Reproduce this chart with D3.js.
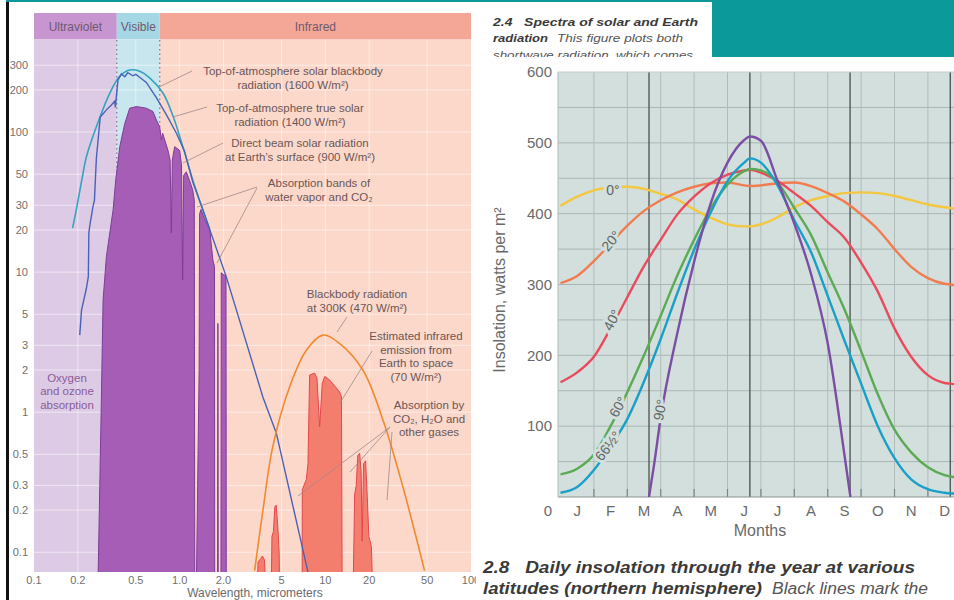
<!DOCTYPE html>
<html>
<head>
<meta charset="utf-8">
<script src="https://d3js.org/d3.v7.min.js"></script>
<style>
body { margin: 0; background: #fff; }
svg { display: block; font-family: 'Liberation Sans', Arial, sans-serif; }
</style>
</head>
<body>
<svg id="tavola" width="954" height="600"></svg>
<script>
//bande dello spettro (micrometri)
var bandeNomi = ['Ultraviolet', 'Visible', 'Infrared'];
var bandeLimiti = [0.1, 0.37, 0.73, 100];

//tick del grafico degli spettri
var tickLunghezza = [0.1, 0.2, 0.5, 1, 2, 5, 10, 20, 50, 100];
var tickLunghezzaTesto = ['0.1', '0.2', '0.5', '1.0', '2.0', '5', '10', '20', '50', '100'];
var tickEnergia = [300, 200, 100, 50, 30, 20, 10, 5, 3, 2, 1, 0.5, 0.3, 0.2, 0.1];

//corpo nero solare in cima all'atmosfera [micrometri, valore]
var solareCorpoNero = [[0.184, 20.6], [0.195, 27.7], [0.217, 50.7], [0.229, 66.6], [0.268, 109], [0.331, 189],
    [0.388, 250], [0.454, 277], [0.531, 272], [0.622, 244], [0.768, 190], [0.9, 130], [1.05, 79],
    [1.23, 45.4], [1.445, 27.7], [1.606, 20.3]];

//radiazione solare vera in cima all'atmosfera
var solareVero = [[0.206, 3.55], [0.212, 5.35], [0.229, 7.67], [0.236, 9.3], [0.238, 19], [0.241, 21.1],
    [0.254, 29.3], [0.26, 32.7], [0.268, 65], [0.285, 128], [0.3, 136], [0.314, 144], [0.34, 156],
    [0.358, 166], [0.362, 150], [0.377, 235], [0.398, 260], [0.42, 248], [0.44, 265], [0.478, 252],
    [0.5, 258], [0.531, 246], [0.59, 226], [0.692, 176], [0.81, 133], [0.95, 98], [1.08, 73],
    [1.23, 44], [1.445, 27.7], [2.09, 9.25], [3.73, 1.28], [4.61, 0.708], [7.6, 0.0722]];

//radiazione diretta alla superficie terrestre
var radiazioneDiretta = [[0.274, 0.05], [0.29, 1.22], [0.298, 6.3], [0.314, 12.9], [0.349, 27.7], [0.364, 45.4],
    [0.388, 78.6], [0.42, 115], [0.454, 148], [0.505, 152], [0.59, 148], [0.656, 140], [0.692, 122],
    [0.729, 109], [0.749, 87.7], [0.764, 98], [0.831, 74], [0.86, 63], [0.877, 19], [0.89, 63],
    [0.924, 78.6], [1.0, 74], [1.03, 58], [1.048, 8.8], [1.065, 49], [1.11, 52], [1.17, 45], [1.23, 38.5],
    [1.26, 32.7], [1.27, 0.05], [1.30, 0.05], [1.36, 2], [1.37, 26], [1.40, 28], [1.48, 24], [1.61, 20],
    [1.69, 12.2], [1.735, 11], [1.74, 0.05], [1.82, 0.05], [1.83, 4.3], [1.84, 0.05], [1.92, 0.05],
    [1.93, 9.9], [2.0, 9.6], [2.08, 9.4], [2.09, 0.05]];

//emissione infrarossa stimata dalla Terra verso lo spazio
var emissioneTerra = [[3.40, 0.05], [3.45, 0.085], [3.6, 0.09], [3.7, 0.094], [3.82, 0.088], [3.93, 0.05],
    [4.25, 0.05], [4.3, 0.13], [4.4, 0.14], [4.5, 0.21], [4.6, 0.217], [4.72, 0.15], [4.82, 0.1], [4.86, 0.05],
    [6.93, 0.05], [6.95, 0.28], [7.4, 0.33], [7.6, 0.43], [7.8, 1.84], [8.44, 1.9], [8.76, 1.75], [9.14, 0.785],
    [9.52, 1.6], [9.9, 1.8], [10.7, 1.7], [11.9, 1.49], [12.5, 1.4], [12.9, 1.29], [13.05, 0.05],
    [15.5, 0.05], [15.9, 0.26], [16.3, 0.3], [16.7, 0.49], [17.2, 0.51], [17.6, 0.38], [17.9, 0.12],
    [18.3, 0.43], [18.9, 0.45], [19.4, 0.25], [19.9, 0.13], [20.7, 0.11], [21.2, 0.05]];

//corpo nero a 300K
var terraCorpoNero = [[3.27, 0.074], [3.73, 0.2], [4.36, 0.57], [5.69, 1.52], [7.41, 2.77], [9.63, 3.55],
    [12.5, 3.1], [18.1, 2.0], [24.9, 0.877], [34.1, 0.292], [48, 0.074]];

//dati del grafico dell'insolazione (mesi dall'inizio dell'anno, watt per m2)
var mesiNomi = ['J', 'F', 'M', 'A', 'M', 'J', 'J', 'A', 'S', 'O', 'N', 'D'];
var tickInsolazione = [0, 100, 200, 300, 400, 500, 600];
var mesiSolstizi = [2.65, 5.67, 8.67, 11.67];
var tempoMesi = [0, 0.5, 1, 1.5, 2, 2.5, 3, 3.5, 4, 4.5, 5, 5.5, 5.67, 6, 6.5, 7, 7.5, 8, 8.5, 9, 9.5, 10, 10.5, 11, 11.5, 11.67, 11.85];
var insolazione0 = [411, 424, 433, 437, 438, 435, 428, 420, 406, 394, 385, 382, 382, 385, 395, 409, 419, 425, 429, 430, 429, 425, 419, 413, 409, 408, 406];
var insolazione20 = [302, 312, 333, 358, 383, 404, 419, 430, 438, 443, 444, 440, 439, 440, 443, 444, 439, 429, 417, 399, 378, 350, 325, 309, 301, 300, 299];
var insolazione40 = [162, 176, 198, 238, 282, 326, 363, 399, 424, 443, 455, 461, 462, 458, 446, 429, 411, 388, 366, 331, 290, 238, 198, 172, 161, 160, 159];
var insolazione60 = [32, 40, 60, 100, 148, 200, 256, 313, 363, 408, 441, 460, 463, 461, 444, 408, 370, 317, 265, 206, 145, 95, 63, 42, 31, 29, 28];
var insolazione66 = [6, 14, 38, 72, 110, 163, 223, 288, 349, 402, 446, 472, 478, 472, 440, 391, 346, 284, 221, 160, 100, 55, 25, 11, 6, 5, 5];
var tempo90 = [2.65, 2.8, 3, 3.5, 4, 4.5, 5, 5.5, 5.67, 6, 6.5, 7, 7.5, 8, 8.5, 8.68];
var insolazione90 = [0, 45, 112, 232, 332, 415, 472, 504, 509, 503, 446, 386, 315, 217, 60, 0];
var latitudiniNomi = ['0°', '20°', '40°', '60°', '66½°', '90°'];

//colori
var bandeTestata = ['#c796d0', '#a6d7e4', '#f5a797'];
var bandeSfondo = ['#ddcbe6', '#c7e6ee', '#fcd8cb'];
var latitudiniColori = ['#f3c73e', '#f07c50', '#ea4b5c', '#5bab55', '#19a0c8', '#7b4ea4'];
var verdeAcqua = '#0b9a99';
var sfondoInsolazione = '#d3dfdd';

//oggetto globale svg dove disegnare
var svg = d3.select('#tavola');

//scale del grafico degli spettri
var xSpettro = d3.scaleLog().domain([0.1, 100]).range([34, 471]);
var ySpettro = d3.scaleLog().domain([0.0723, 454]).range([572, 40]);

//scale del grafico dell'insolazione
var xMesi = d3.scaleLinear().domain([0, 12]).range([560.5, 961.3]);
var yInsolazione = d3.scaleLinear().domain([0, 600]).range([497, 72]);

//funzione che disegna la cornice verde acqua e nera
function disegnaCornice() {
    svg.append('rect').attr('width', 954).attr('height', 600).style('fill', '#fff');
    svg.append('rect').attr('x', 6).attr('y', 0).attr('width', 948).attr('height', 2).style('fill', verdeAcqua);
    svg.append('rect').attr('x', 6).attr('y', 2).attr('width', 3).attr('height', 598).style('fill', '#111');
}

//funzione che disegna il grafico degli spettri
function disegnaSpettro() {
    var g = svg.append('g');
    var alto = ySpettro.range()[1];
    var basso = ySpettro.range()[0];

    //fasce di sfondo e intestazione
    bandeNomi.forEach(function(nome, i) {
        var x0 = xSpettro(bandeLimiti[i]);
        var x1 = xSpettro(bandeLimiti[i + 1]);
        g.append('rect').attr('x', x0).attr('y', 13).attr('width', x1 - x0).attr('height', 26.5)
            .style('fill', bandeTestata[i]);
        g.append('rect').attr('x', x0).attr('y', alto).attr('width', x1 - x0).attr('height', basso - alto)
            .style('fill', bandeSfondo[i]);
        g.append('text').attr('x', (x0 + x1) / 2).attr('y', 30.5)
            .style('text-anchor', 'middle').style('font-size', '12px').style('fill', '#6e5a70')
            .text(nome);
    });

    //griglia
    g.selectAll('.grigliaX').data(tickLunghezza.slice(1, -1)).enter().append('line')
        .attr('x1', function(d) { return xSpettro(d); }).attr('x2', function(d) { return xSpettro(d); })
        .attr('y1', alto).attr('y2', basso)
        .style('stroke', '#fff').style('stroke-opacity', 0.5);
    g.selectAll('.grigliaY').data(tickEnergia).enter().append('line')
        .attr('x1', xSpettro.range()[0]).attr('x2', xSpettro.range()[1])
        .attr('y1', function(d) { return ySpettro(d); }).attr('y2', function(d) { return ySpettro(d); })
        .style('stroke', '#fff').style('stroke-opacity', 0.5);

    //linee tratteggiate del visibile
    g.selectAll('.limite').data(bandeLimiti.slice(1, 3)).enter().append('line')
        .attr('x1', function(d) { return xSpettro(d); }).attr('x2', function(d) { return xSpettro(d); })
        .attr('y1', alto).attr('y2', basso)
        .style('stroke', '#8c6c98').style('stroke-dasharray', '1.5,3').style('stroke-width', 1.2);

    //area di disegno
    svg.append('clipPath').attr('id', 'clipSpettro').append('rect')
        .attr('x', xSpettro.range()[0]).attr('y', alto)
        .attr('width', xSpettro.range()[1] - xSpettro.range()[0]).attr('height', basso - alto);
    var p = g.append('g').attr('clip-path', 'url(#clipSpettro)');

    var area = d3.area()
        .x(function(d) { return xSpettro(d[0]); })
        .y0(basso + 5)
        .y1(function(d) { return ySpettro(d[1]); });
    var linea = d3.line()
        .x(function(d) { return xSpettro(d[0]); })
        .y(function(d) { return ySpettro(d[1]); });
    var lineaMorbida = d3.line()
        .x(function(d) { return xSpettro(d[0]); })
        .y(function(d) { return ySpettro(d[1]); })
        .curve(d3.curveCatmullRom);

    p.append('path').attr('d', area(radiazioneDiretta)).style('fill', '#a55db5');
    p.append('path').attr('d', linea(radiazioneDiretta))
        .style('fill', 'none').style('stroke', '#7d3c98').style('stroke-width', 1);
    p.append('path').attr('d', area(emissioneTerra)).style('fill', '#f47e6e');
    p.append('path').attr('d', linea(emissioneTerra))
        .style('fill', 'none').style('stroke', '#e4464c').style('stroke-width', 1);

    p.append('path').attr('d', lineaMorbida(solareCorpoNero))
        .style('fill', 'none').style('stroke', '#34a3bf').style('stroke-width', 1.6);
    p.append('path').attr('d', linea(solareVero))
        .style('fill', 'none').style('stroke', '#4862b8').style('stroke-width', 1.4);
    p.append('path').attr('d', lineaMorbida(terraCorpoNero))
        .style('fill', 'none').style('stroke', '#f08a2e').style('stroke-width', 1.6);

    //etichette degli assi
    g.selectAll('.tickY').data(tickEnergia).enter().append('text')
        .attr('x', 28).attr('y', function(d) { return ySpettro(d); }).attr('dy', '.35em')
        .style('text-anchor', 'end').style('font-size', '11px').style('fill', '#707070')
        .text(function(d) { return d; });
    g.selectAll('.tickX').data(tickLunghezza).enter().append('text')
        .attr('x', function(d) { return xSpettro(d); }).attr('y', 584)
        .style('text-anchor', 'middle').style('font-size', '11px').style('fill', '#707070')
        .text(function(d, i) { return tickLunghezzaTesto[i]; });
    g.append('text').attr('x', 255).attr('y', 597)
        .style('text-anchor', 'middle').style('font-size', '12px').style('fill', '#6a6a6a')
        .text('Wavelength, micrometers');

    disegnaNote(g);
}

//funzione che scrive le note con le linee di richiamo
function disegnaNote(g) {
    var note = [
        { x: 293, y: 75, righe: ['Top-of-atmosphere solar blackbody', 'radiation (1600 W/m²)'] },
        { x: 290, y: 112, righe: ['Top-of-atmosphere true solar', 'radiation (1400 W/m²)'] },
        { x: 300, y: 147, righe: ['Direct beam solar radiation', 'at Earth\u2019s surface (900 W/m²)'] },
        { x: 319, y: 187, righe: ['Absorption bands of', 'water vapor and CO\u2082'] },
        { x: 357, y: 298, righe: ['Blackbody radiation', 'at 300K (470 W/m²)'] },
        { x: 416, y: 340, righe: ['Estimated infrared', 'emission from', 'Earth to space', '(70 W/m²)'] },
        { x: 429, y: 409, righe: ['Absorption by', 'CO\u2082, H\u2082O and', 'other gases'] }
    ];
    var richiami = [[192, 71, 159, 87], [207, 107, 173, 117], [223, 143, 183, 163], [257, 187, 197, 207],
        [257, 188, 217, 263], [347, 317, 337, 332], [372, 351, 340, 403], [390, 427, 298, 496],
        [390, 427, 350, 472], [392, 432, 387, 500]];

    g.selectAll('.richiamo').data(richiami).enter().append('line')
        .attr('x1', function(d) { return d[0]; }).attr('y1', function(d) { return d[1]; })
        .attr('x2', function(d) { return d[2]; }).attr('y2', function(d) { return d[3]; })
        .style('stroke', '#a08888').style('stroke-width', 0.8);

    note.forEach(function(n) {
        var t = g.append('text').attr('x', n.x).attr('y', n.y)
            .style('text-anchor', 'middle').style('font-size', '11.5px').style('fill', '#6b5656');
        n.righe.forEach(function(r, i) {
            t.append('tspan').attr('x', n.x).attr('dy', i ? 13.5 : 0).text(r);
        });
    });

    var ossigeno = g.append('text').attr('x', 67).attr('y', 381.5)
        .style('text-anchor', 'middle').style('font-size', '11.5px').style('fill', '#8a5c98');
    ['Oxygen', 'and ozone', 'absorption'].forEach(function(r, i) {
        ossigeno.append('tspan').attr('x', 67).attr('dy', i ? 13.5 : 0).text(r);
    });
}

//funzione che scrive un testo della didascalia
function scriviTesto(g, s, x, y, lunghezza, grassetto) {
    return g.append('text').attr('x', x).attr('y', y)
        .attr('textLength', lunghezza).attr('lengthAdjust', 'spacingAndGlyphs')
        .style('white-space', 'pre')
        .style('font-weight', grassetto ? 'bold' : 'normal')
        .style('fill', grassetto ? '#3a3a3a' : '#555')
        .text(s);
}

//funzione che disegna le didascalie e il riquadro verde acqua
function disegnaDidascalie() {
    svg.append('rect').attr('x', 712).attr('y', 0).attr('width', 242).attr('height', 57).style('fill', verdeAcqua);

    var alto = svg.append('g').style('font-style', 'italic').style('font-size', '11.5px');
    scriviTesto(alto, '2.4   Spectra of solar and Earth', 493, 26, 205, true);
    scriviTesto(alto, 'radiation', 493, 42, 55, true);
    scriviTesto(alto, 'This figure plots both', 557, 42, 126, false);
    scriviTesto(alto, 'shortwave radiation, which comes', 493, 58.5, 200, false);

    //il pannello destro copre il testo sotto
    svg.append('rect').attr('x', 476).attr('y', 57).attr('width', 478).attr('height', 543).style('fill', '#fff');

    var basso = svg.append('g').style('font-style', 'italic').style('font-size', '16px');
    scriviTesto(basso, '2.8   Daily insolation through the year at various', 483, 573, 432, true);
    scriviTesto(basso, 'latitudes (northern hemisphere)', 483, 594, 279, true);
    scriviTesto(basso, 'Black lines mark the', 772, 594, 156, false);
}

//funzione che disegna il grafico dell'insolazione
function disegnaInsolazione() {
    var g = svg.append('g');
    var sinistra = 558;
    var destra = 954;
    var alto = yInsolazione(600);
    var basso = yInsolazione(0);

    g.append('rect').attr('x', sinistra).attr('y', alto).attr('width', destra - sinistra).attr('height', basso - alto)
        .style('fill', sfondoInsolazione);

    //griglia orizzontale ogni 50
    g.selectAll('.grigliaY').data(d3.range(50, 600, 50)).enter().append('line')
        .attr('x1', sinistra).attr('x2', destra)
        .attr('y1', function(d) { return yInsolazione(d); }).attr('y2', function(d) { return yInsolazione(d); })
        .style('stroke', '#aab6b4').style('stroke-width', 1);

    //griglia verticale ai confini dei mesi
    g.selectAll('.grigliaX').data(d3.range(1, 12)).enter().append('line')
        .attr('x1', function(d) { return xMesi(d); }).attr('x2', function(d) { return xMesi(d); })
        .attr('y1', alto).attr('y2', basso)
        .style('stroke', '#b0bcba').style('stroke-width', 1);
    g.selectAll('.tacche').data(d3.range(1, 12)).enter().append('line')
        .attr('x1', function(d) { return xMesi(d); }).attr('x2', function(d) { return xMesi(d); })
        .attr('y1', basso - 8).attr('y2', basso)
        .style('stroke', '#7d8584').style('stroke-width', 1.2);

    //linee nere di equinozi e solstizi
    g.selectAll('.solstizio').data(mesiSolstizi).enter().append('line')
        .attr('x1', function(d) { return xMesi(d); }).attr('x2', function(d) { return xMesi(d); })
        .attr('y1', alto).attr('y2', basso)
        .style('stroke', '#4b4f4f').style('stroke-width', 1.3);

    g.append('line').attr('x1', sinistra).attr('x2', destra).attr('y1', basso).attr('y2', basso)
        .style('stroke', '#8a9291').style('stroke-width', 1.2);
    g.append('line').attr('x1', sinistra).attr('x2', sinistra).attr('y1', alto).attr('y2', basso)
        .style('stroke', '#b0bcba').style('stroke-width', 1);
    g.append('line').attr('x1', sinistra).attr('x2', destra).attr('y1', alto).attr('y2', alto)
        .style('stroke', '#c4cecc').style('stroke-width', 1);

    //curve delle latitudini
    var serie = [
        tempoMesi.map(function(t, i) { return [t, insolazione0[i]]; }),
        tempoMesi.map(function(t, i) { return [t, insolazione20[i]]; }),
        tempoMesi.map(function(t, i) { return [t, insolazione40[i]]; }),
        tempoMesi.map(function(t, i) { return [t, insolazione60[i]]; }),
        tempoMesi.map(function(t, i) { return [t, insolazione66[i]]; }),
        tempo90.map(function(t, i) { return [t, insolazione90[i]]; })
    ];
    var linea = d3.line()
        .x(function(d) { return xMesi(d[0]); })
        .y(function(d) { return yInsolazione(d[1]); })
        .curve(d3.curveMonotoneX);

    svg.append('clipPath').attr('id', 'clipInsolazione').append('rect')
        .attr('x', sinistra).attr('y', alto - 5).attr('width', destra - sinistra).attr('height', basso - alto + 5);
    var p = g.append('g').attr('clip-path', 'url(#clipInsolazione)');
    p.selectAll('.latitudine').data(serie).enter().append('path')
        .attr('d', function(d) { return linea(d); })
        .style('fill', 'none')
        .style('stroke', function(d, i) { return latitudiniColori[i]; })
        .style('stroke-width', 2.4);

    //etichette delle curve con interruzione della linea
    var posEtichette = [[613, 190, 0], [611, 241, -50], [612, 320, -62], [618, 407, -60], [608, 446, -52], [660, 410, -79]];
    g.selectAll('.etichetta').data(latitudiniNomi).enter().append('text')
        .attr('transform', function(d, i) {
            return 'translate(' + posEtichette[i][0] + ',' + posEtichette[i][1] + ') rotate(' + posEtichette[i][2] + ')';
        })
        .attr('dy', '.35em')
        .style('text-anchor', 'middle').style('font-size', '14px').style('fill', '#5f6565')
        .style('stroke', sfondoInsolazione).style('stroke-width', 6).style('paint-order', 'stroke')
        .text(function(d) { return d; });

    //assi
    g.selectAll('.tickY').data(tickInsolazione).enter().append('text')
        .attr('x', 552).attr('y', function(d) { return d === 0 ? 511 : yInsolazione(d); }).attr('dy', '.35em')
        .style('text-anchor', 'end').style('font-size', '15px').style('fill', '#6a6a6a')
        .text(function(d) { return d; });
    g.selectAll('.mese').data(mesiNomi).enter().append('text')
        .attr('x', function(d, i) { return xMesi(i + 0.5); }).attr('y', 511).attr('dy', '.35em')
        .style('text-anchor', 'middle').style('font-size', '15px').style('fill', '#6a6a6a')
        .text(function(d) { return d; });
    g.append('text').attr('x', 760).attr('y', 530).attr('dy', '.35em')
        .style('text-anchor', 'middle').style('font-size', '16px').style('fill', '#6a6a6a')
        .text('Months');
    g.append('text').attr('transform', 'translate(499,290) rotate(-90)').attr('dy', '.35em')
        .style('text-anchor', 'middle').style('font-size', '16px').style('fill', '#6a6a6a')
        .text('Insolation, watts per m²');
}

disegnaCornice();
disegnaSpettro();
disegnaDidascalie();
disegnaInsolazione();
</script>
</body>
</html>
